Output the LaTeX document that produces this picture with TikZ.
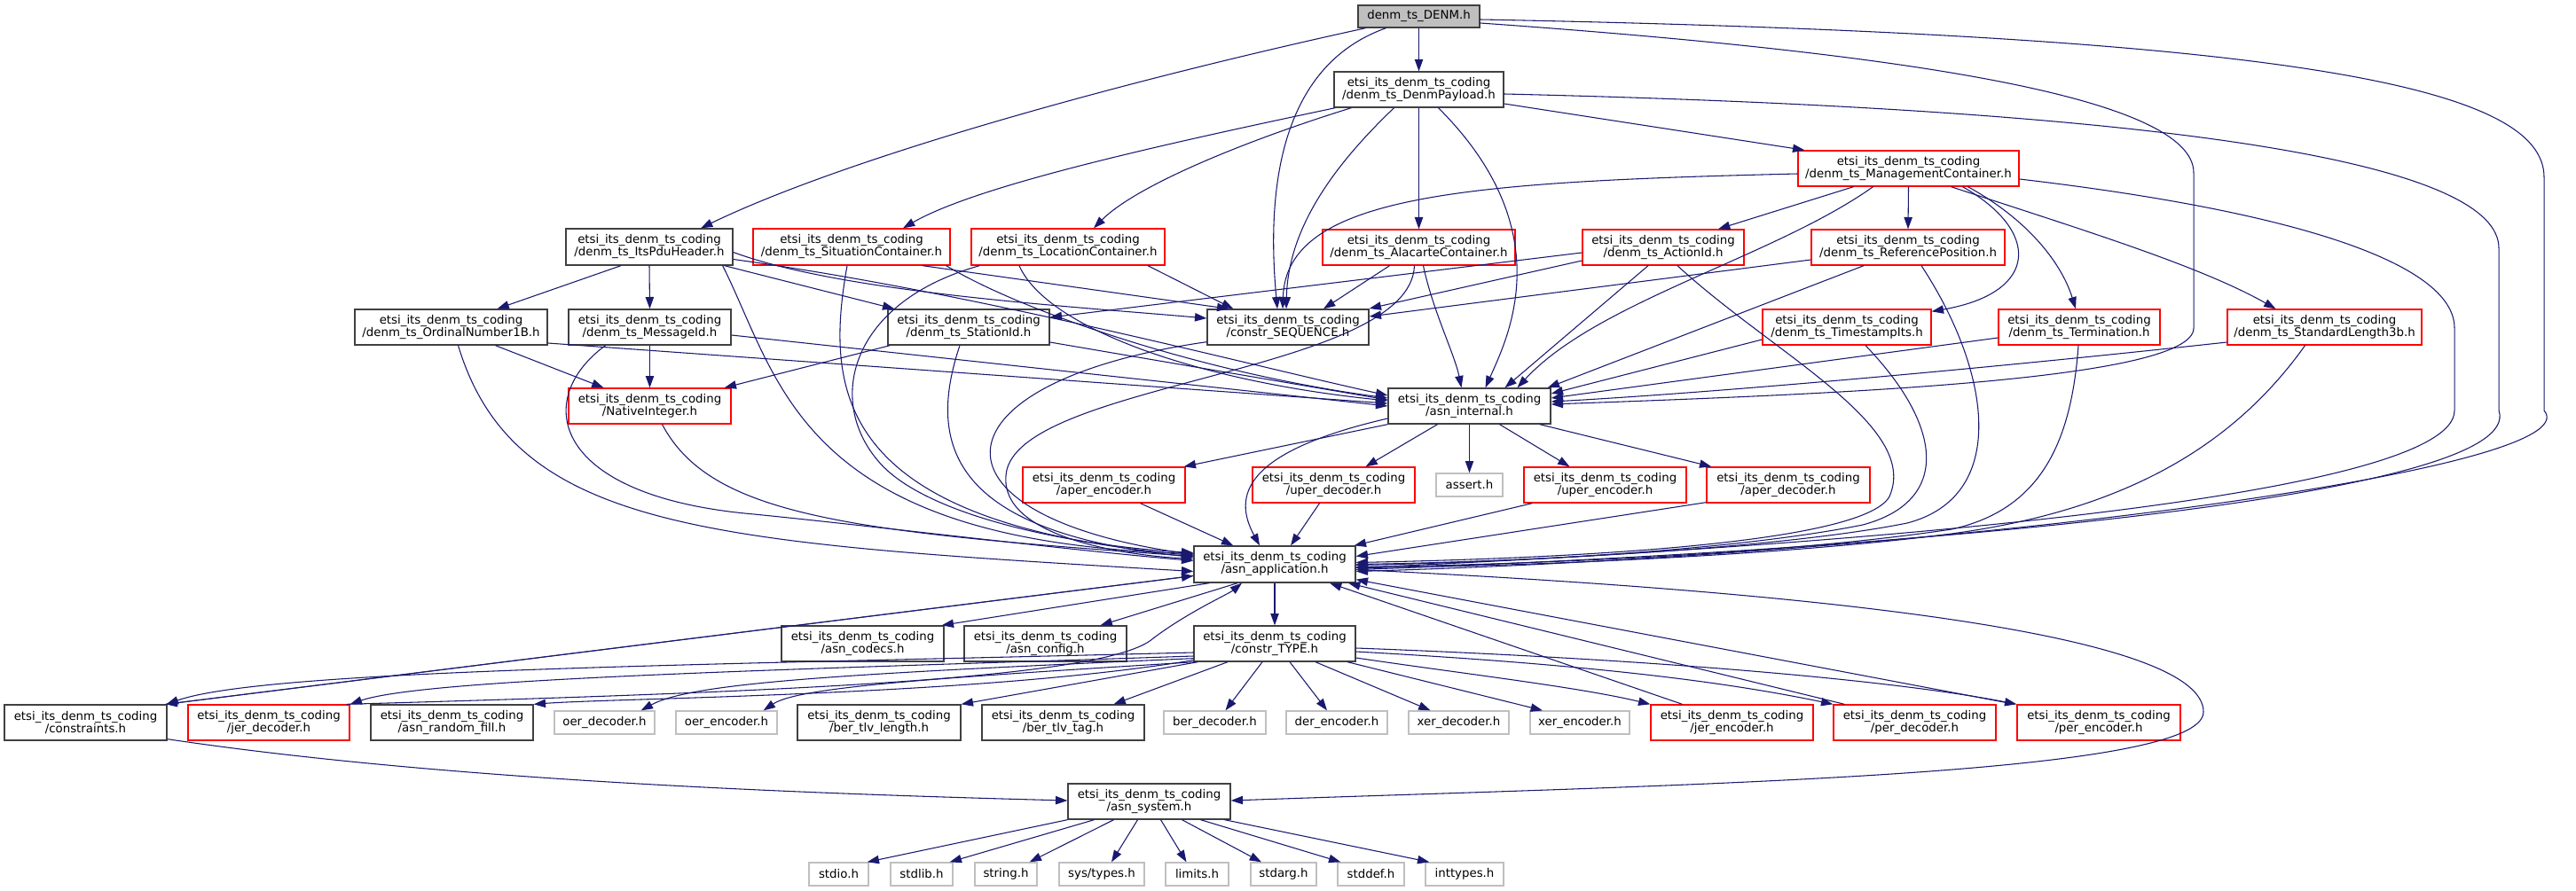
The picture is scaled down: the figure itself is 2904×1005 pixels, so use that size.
\documentclass[tikz,border=0pt]{standalone}
\usepackage{fontspec}
\setmainfont{DejaVu Sans}
\usetikzlibrary{arrows.meta,calc}
\definecolor{edgec}{HTML}{191970}
\definecolor{gfill}{HTML}{BFBFBF}
\definecolor{gline}{HTML}{BFBFBF}
\definecolor{bline}{HTML}{404040}
\definecolor{rline}{HTML}{FF0000}
\newcommand\mkbox[7]{\node[#1,minimum width=#5*0.75pt,minimum height=#6*0.75pt] (#2) at (#3,#4) {#7};}
\newcommand\pre{etsi\_its\_denm\_ts\_coding\\}
\begin{document}
\begin{tikzpicture}[x=0.75pt,y=-0.75pt,
  bx/.style={draw=bline,line width=1pt,fill=white,inner sep=0pt,align=center,font=\fontsize{10}{10.5}\selectfont},
  rx/.style={bx,draw=rline},
  gx/.style={bx,draw=gline},
  tx/.style={bx,fill=gfill},
  edg/.style={draw=edgec,line width=0.8pt,-{Triangle[length=10pt,width=7pt]}}]
\fill[white] (0,0) rectangle (2904,1005);
\useasboundingbox (0,0) rectangle (2904,1005);
% nodes
\mkbox{tx}{denm}{1599.5}{18.5}{137}{25}{denm\_ts\_DENM.h}
\mkbox{bx}{payload}{1599.5}{101}{191}{40}{\pre/denm\_ts\_DenmPayload.h}
\mkbox{rx}{mgmt}{2151.5}{190}{249}{40}{\pre/denm\_ts\_ManagementContainer.h}
\mkbox{bx}{its}{732}{278.5}{188}{41}{\pre/denm\_ts\_ItsPduHeader.h}
\mkbox{rx}{sit}{960}{278.5}{222}{41}{\pre/denm\_ts\_SituationContainer.h}
\mkbox{rx}{loc}{1204}{278.5}{218}{41}{\pre/denm\_ts\_LocationContainer.h}
\mkbox{rx}{alac}{1599.5}{279}{217}{40}{\pre/denm\_ts\_AlacarteContainer.h}
\mkbox{rx}{act}{1875}{279}{182}{40}{\pre/denm\_ts\_ActionId.h}
\mkbox{rx}{ref}{2151}{279}{218}{40}{\pre/denm\_ts\_ReferencePosition.h}
\mkbox{bx}{ord}{508.5}{369}{217}{40}{\pre/denm\_ts\_OrdinalNumber1B.h}
\mkbox{bx}{msg}{732.5}{369}{183}{40}{\pre/denm\_ts\_MessageId.h}
\mkbox{bx}{sta}{1092}{369}{182}{40}{\pre/denm\_ts\_StationId.h}
\mkbox{bx}{seq}{1452}{369}{182}{40}{\pre/constr\_SEQUENCE.h}
\mkbox{rx}{ts}{2082}{369}{190}{40}{\pre/denm\_ts\_TimestampIts.h}
\mkbox{rx}{term}{2344}{369}{182}{40}{\pre/denm\_ts\_Termination.h}
\mkbox{rx}{sl}{2620.5}{369}{219}{40}{\pre/denm\_ts\_StandardLength3b.h}
\mkbox{rx}{nat}{732.5}{458}{183}{40}{\pre/NativeInteger.h}
\mkbox{bx}{int}{1656.5}{458}{183}{40}{\pre/asn\_internal.h}
\mkbox{rx}{aenc}{1244.5}{547}{183}{40}{\pre/aper\_encoder.h}
\mkbox{rx}{udec}{1503.5}{547}{183}{40}{\pre/uper\_decoder.h}
\mkbox{gx}{assert}{1656.5}{547}{75}{26}{assert.h}
\mkbox{rx}{uenc}{1809.5}{547}{183}{40}{\pre/uper\_encoder.h}
\mkbox{rx}{adec}{2016}{547}{184}{40}{\pre/aper\_decoder.h}
\mkbox{bx}{app}{1437}{636.5}{182}{41}{\pre/asn\_application.h}
\mkbox{bx}{codecs}{972.5}{726}{183}{40}{\pre/asn\_codecs.h}
\mkbox{bx}{config}{1178.5}{726}{183}{40}{\pre/asn\_config.h}
\mkbox{bx}{type}{1437}{726}{182}{40}{\pre/constr\_TYPE.h}
\mkbox{bx}{cons}{96.5}{815}{183}{40}{\pre/constraints.h}
\mkbox{rx}{jdec}{303}{815}{182}{40}{\pre/jer\_decoder.h}
\mkbox{bx}{rfill}{509.5}{815}{183}{40}{\pre/asn\_random\_fill.h}
\mkbox{gx}{odec}{681.5}{815}{113}{26}{oer\_decoder.h}
\mkbox{gx}{oenc}{819}{815}{114}{26}{oer\_encoder.h}
\mkbox{bx}{blen}{991}{815}{184}{40}{\pre/ber\_tlv\_length.h}
\mkbox{bx}{btag}{1198.5}{815}{183}{40}{\pre/ber\_tlv\_tag.h}
\mkbox{gx}{bdec}{1369.5}{815}{115}{26}{ber\_decoder.h}
\mkbox{gx}{denc}{1507}{815}{114}{26}{der\_encoder.h}
\mkbox{gx}{xdec}{1644.5}{815}{113}{26}{xer\_decoder.h}
\mkbox{gx}{xenc}{1781}{815}{112}{26}{xer\_encoder.h}
\mkbox{rx}{jenc}{1952.5}{815}{183}{40}{\pre/jer\_encoder.h}
\mkbox{rx}{pdec}{2158.5}{815}{183}{40}{\pre/per\_decoder.h}
\mkbox{rx}{penc}{2366}{815}{184}{40}{\pre/per\_encoder.h}
\mkbox{bx}{sys}{1295.5}{904}{183}{40}{\pre/asn\_system.h}
\mkbox{gx}{stdio}{945.5}{986}{67}{26}{stdio.h}
\mkbox{gx}{stdlib}{1039}{986}{70}{26}{stdlib.h}
\mkbox{gx}{string}{1134}{986}{70}{26}{string.h}
\mkbox{gx}{systypes}{1242}{986}{96}{26}{sys/types.h}
\mkbox{gx}{limits}{1349.5}{986}{71}{26}{limits.h}
\mkbox{gx}{stdarg}{1447}{986}{74}{26}{stdarg.h}
\mkbox{gx}{stddef}{1545.5}{986}{75}{26}{stddef.h}
\mkbox{gx}{inttypes}{1651}{986}{88}{26}{inttypes.h}
% edges from DENM
\draw[edg] (denm.south) -- (payload.north);
\draw[edg] ($(denm.south)+(-60,0)$) .. controls (1250,95) and (950,180) .. ($(its.north)+(58,0)$);
\draw[edg] ($(denm.south)+(-37,0)$) .. controls (1440,75) and (1428,220) .. ($(seq.north)+(-12,0)$);
\draw[edg] ($(denm.east)+(0,7.5)$) .. controls (2150,60) and (2473,110) .. (2473,195) -- (2473,370) .. controls (2473,430) and (2050,445) .. ($(int.east)+(0,-2)$);
\draw[edg] ($(denm.east)+(0,3.5)$) .. controls (2600,40) and (2868,100) .. (2868,200) -- (2868,463) .. controls (2925,530) and (2200,625) .. ($(app.east)+(0,8)$);
% payload
\draw[edg] ($(payload.east)+(0,5)$) .. controls (2500,125) and (2817,190) .. (2817,280) -- (2817,463) .. controls (2850,560) and (2150,620) .. ($(app.east)+(0,6)$);
\draw[edg] (payload.south) -- (alac.north);
\draw[edg] ($(payload.east)+(0,16)$) -- ($(mgmt.north west)+(8,0)$);
\draw[edg] ($(payload.south west)+(2,0)$) .. controls (1300,165) and (1100,210) .. ($(sit.north)+(58,0)$);
\draw[edg] ($(payload.south west)+(20,0)$) .. controls (1400,160) and (1280,210) .. ($(loc.north)+(29,0)$);
\draw[edg] ($(payload.south)+(-28,0)$) .. controls (1500,190) and (1452,260) .. ($(seq.north)+(-2,0)$);
\draw[edg] ($(payload.south)+(22,0)$) .. controls (1760,260) and (1700,380) .. ($(int.north)+(18,0)$);
% management
\draw[edg] ($(mgmt.east)+(0,12)$) .. controls (2600,240) and (2767,300) .. (2767,370) -- (2767,463) .. controls (2767,560) and (2100,615) .. ($(app.east)+(0,4)$);
\draw[edg] ($(mgmt.west)+(0,6)$) .. controls (1650,205) and (1450,220) .. ($(seq.north)+(-6,0)$);
\draw[edg] ($(mgmt.south)+(-62,0)$) -- ($(act.north)+(62,0)$);
\draw[edg] ($(mgmt.south)+(-40,0)$) .. controls (2000,290) and (1800,340) .. ($(int.north)+(54,0)$);
\draw[edg] (mgmt.south) -- (ref.north);
\draw[edg] ($(mgmt.south)+(61,0)$) .. controls (2300,260) and (2300,330) .. ($(ts.north east)+(0,3)$);
\draw[edg] ($(mgmt.south)+(67,0)$) .. controls (2290,250) and (2325,300) .. ($(term.north)+(-4,0)$);
\draw[edg] ($(mgmt.south)+(48,0)$) .. controls (2350,260) and (2480,300) .. ($(sl.north)+(-55,0)$);
% ItsPduHeader
\draw[edg] ($(its.south)+(-32,0)$) -- ($(ord.north)+(52,0)$);
\draw[edg] (its.south) -- (msg.north);
\draw[edg] ($(its.south east)+(-10,0)$) -- ($(sta.north west)+(8,0)$);
\draw[edg] ($(its.east)+(0,6)$) .. controls (950,330) and (1200,345) .. ($(seq.west)+(0,-10)$);
\draw[edg] ($(its.east)+(0,14)$) .. controls (1100,330) and (1400,410) .. ($(int.west)+(0,-12)$);
\draw[edg] ($(its.south east)+(-12,0)$) .. controls (880,430) and (900,610) .. ($(app.west)+(0,-12)$);
% Situation / Location
\draw[edg] ($(sit.south)+(80,0)$) -- ($(seq.north west)+(25,0)$);
\draw[edg] ($(sit.south east)+(-5,0)$) .. controls (1150,350) and (1350,420) .. ($(int.west)+(0,-9)$);
\draw[edg] ($(sit.south)+(-5,0)$) .. controls (930,440) and (940,590) .. ($(app.west)+(0,-10)$);
\draw[edg] ($(loc.south)+(90,0)$) -- ($(seq.north west)+(30,0)$);
\draw[edg] ($(loc.south)+(-55,0)$) .. controls (1180,370) and (1350,430) .. ($(int.west)+(0,-6)$);
\draw[edg] ($(loc.south west)+(10,0)$) .. controls (960,340) and (930,450) .. (990,520) .. controls (1040,580) and (1200,615) .. ($(app.west)+(0,-13)$);
% Alacarte
\draw[edg] ($(alac.south)+(-33,0)$) -- ($(seq.north)+(40,0)$);
\draw[edg] ($(alac.south)+(5,0)$) .. controls (1615,350) and (1640,400) .. ($(int.north)+(-9,0)$);
\draw[edg] ($(alac.south)+(-5,0)$) .. controls (1590,420) and (1160,430) .. (1135,530) .. controls (1120,600) and (1250,625) .. ($(app.west)+(0,-6)$);
% ActionId
\draw[edg] ($(act.west)+(0,6)$) -- ($(sta.east)+(0,-11)$);
\draw[edg] ($(act.west)+(0,15)$) -- ($(seq.east)+(0,-21)$);
\draw[edg] ($(act.south)+(-17,0)$) -- ($(int.north)+(40,0)$);
\draw[edg] ($(act.south)+(16,0)$) .. controls (2000,400) and (2165,480) .. (2130,560) .. controls (2100,615) and (1750,630) .. ($(app.east)+(0,-2)$);
% ReferencePosition
\draw[edg] ($(ref.west)+(0,14)$) -- ($(seq.east)+(0,-12)$);
\draw[edg] ($(ref.south)+(-50,0)$) -- ($(int.north east)+(-4,0)$);
\draw[edg] ($(ref.south)+(15,0)$) .. controls (2245,420) and (2265,560) .. (2150,590) .. controls (2000,620) and (1700,634) .. ($(app.east)+(0,0)$);
% TimestampIts, Termination, StandardLength3b
\draw[edg] ($(ts.west)+(0,14)$) -- ($(int.east)+(0,-14)$);
\draw[edg] ($(ts.south)+(21,0)$) .. controls (2190,480) and (2200,565) .. (2100,592) .. controls (1950,622) and (1700,634) .. ($(app.east)+(0,1)$);
\draw[edg] ($(term.west)+(0,12)$) -- ($(int.east)+(0,-9)$);
\draw[edg] ($(term.south)+(-1,0)$) .. controls (2335,500) and (2300,575) .. (2200,597) .. controls (2000,627) and (1700,637) .. ($(app.east)+(0,3)$);
\draw[edg] ($(sl.west)+(0,17)$) .. controls (2200,420) and (1900,445) .. ($(int.east)+(0,-5)$);
\draw[edg] ($(sl.south)+(-22,0)$) .. controls (2520,500) and (2400,575) .. (2200,602) .. controls (2000,628) and (1700,639) .. ($(app.east)+(0,4)$);
% OrdinalNumber1B, MessageId, StationId
\draw[edg] ($(ord.south)+(50,0)$) -- ($(nat.north)+(-52,0)$);
\draw[edg] ($(ord.east)+(0,18)$) -- ($(int.west)+(0,-3)$);
\draw[edg] ($(ord.south)+(8,0)$) .. controls (580,600) and (800,612) .. ($(app.west)+(0,8)$);
\draw[edg] (msg.south) -- (nat.north);
\draw[edg] ($(msg.east)+(0,9)$) -- ($(int.west)+(0,0)$);
\draw[edg] ($(msg.south)+(-50,0)$) .. controls (600,450) and (620,560) .. (850,580) .. controls (1000,595) and (1200,620) .. ($(app.west)+(0,-4)$);
\draw[edg] ($(sta.south west)+(3,0)$) -- ($(nat.north east)+(-8,0)$);
\draw[edg] ($(sta.east)+(0,17)$) -- ($(int.west)+(0,-7)$);
\draw[edg] ($(sta.south)+(-10,0)$) .. controls (1045,500) and (1070,600) .. ($(app.west)+(0,-8)$);
% constr_SEQUENCE, NativeInteger
\draw[edg] ($(seq.south west)+(0,-4)$) .. controls (1050,430) and (1030,580) .. ($(app.west)+(0,-11)$);
\draw[edg] ($(nat.south)+(14,0)$) .. controls (800,580) and (950,600) .. ($(app.west)+(0,-9)$);
% asn_internal
\draw[edg] ($(int.west)+(0,14)$) .. controls (1400,510) and (1390,560) .. ($(app.north)+(-17,0)$);
\draw[edg] (int.south west) -- ($(aenc.north east)+(-2,0)$);
\draw[edg] ($(int.south)+(-36,0)$) -- ($(udec.north)+(36,0)$);
\draw[edg] (int.south) -- (assert.north);
\draw[edg] ($(int.south)+(34,0)$) -- ($(uenc.north)+(-40,0)$);
\draw[edg] ($(int.south east)+(-13,0)$) -- ($(adec.north west)+(6,0)$);
% encoders/decoders to asn_application
\draw[edg] ($(aenc.south)+(41,0)$) -- ($(app.north west)+(45,0)$);
\draw[edg] ($(udec.south)+(-16,0)$) -- ($(app.north)+(18,0)$);
\draw[edg] ($(uenc.south west)+(10,0)$) -- ($(app.north east)+(-2,0)$);
\draw[edg] ($(adec.south west)+(0,-1)$) -- ($(app.east)+(0,-9)$);
% asn_application
\draw[edg] ($(app.south west)+(18,0)$) -- ($(codecs.north east)+(-3,0)$);
\draw[edg] ($(app.south)+(-42,0)$) -- ($(config.north)+(62,0)$);
\draw[edg] (app.south) -- (type.north);
\draw[edg] ($(app.west)+(0,13)$) -- ($(cons.north east)+(-2,0)$);
\draw[edg] ($(cons.north east)+(-2,0)$) -- ($(app.west)+(0,13)$);
\draw[edg] ($(app.east)+(0,6)$) .. controls (2100,670) and (2484,720) .. (2484,803) .. controls (2484,875) and (1900,885) .. ($(sys.east)+(0,-1)$);
% constr_TYPE
\draw[edg] ($(type.west)+(0,10)$) .. controls (800,750) and (300,755) .. ($(cons.north east)+(-1,0)$);
\draw[edg] ($(type.west)+(0,14)$) .. controls (900,755) and (480,765) .. (jdec.north east);
\draw[edg] ($(type.south west)+(0,-2)$) .. controls (1100,785) and (700,787) .. (rfill.north east);
\draw[edg] ($(type.south west)+(0,-4)$) .. controls (950,760) and (780,770) .. ($(odec.north east)+(-16,0)$);
\draw[edg] ($(type.south west)+(2,0)$) .. controls (1050,765) and (900,775) .. ($(oenc.north east)+(-16,0)$);
\draw[edg] ($(type.south west)+(5,0)$) -- (blen.north east);
\draw[edg] ($(type.south)+(-53,0)$) -- ($(btag.north)+(57,0)$);
\draw[edg] ($(type.south)+(-14,0)$) -- ($(bdec.north)+(12,0)$);
\draw[edg] ($(type.south)+(17,0)$) -- ($(denc.north)+(-11,0)$);
\draw[edg] ($(type.south)+(46,0)$) -- ($(xdec.north)+(-32,0)$);
\draw[edg] ($(type.south)+(82,0)$) -- ($(xenc.north)+(-42,0)$);
\draw[edg] ($(type.east)+(0,16)$) .. controls (1650,760) and (1780,775) .. (jenc.north west);
\draw[edg] ($(type.east)+(0,9)$) .. controls (1800,750) and (1950,770) .. (pdec.north west);
\draw[edg] ($(type.east)+(0,5)$) .. controls (1900,745) and (2150,770) .. (penc.north west);
% back edges to asn_application
\draw[edg] ($(jdec.north east)+(-4,0)$) .. controls (900,780) and (1250,765) .. (1300,720) .. controls (1340,690) and (1385,670) .. ($(app.south)+(-37,0)$);
\draw[edg] ($(jenc.north)+(-56,0)$) -- ($(app.south)+(62,0)$);
\draw[edg] ($(pdec.north west)+(13,0)$) -- ($(app.south)+(83,0)$);
\draw[edg] ($(penc.north west)+(-2,0)$) -- ($(app.south east)+(0,-4)$);
% constraints to asn_system
\draw[edg] ($(cons.south east)+(0,-2)$) .. controls (500,880) and (900,895) .. ($(sys.west)+(0,-1)$);
% asn_system
\draw[edg] (sys.south west) -- ($(stdio.north east)+(-2,0)$);
\draw[edg] ($(sys.south)+(-62,0)$) -- ($(stdlib.north east)+(-4,0)$);
\draw[edg] ($(sys.south)+(-40,0)$) -- ($(string.north east)+(-9,0)$);
\draw[edg] ($(sys.south)+(-13,0)$) -- ($(systypes.north)+(11,0)$);
\draw[edg] ($(sys.south)+(13,0)$) -- ($(limits.north)+(-12,0)$);
\draw[edg] ($(sys.south)+(37,0)$) -- ($(stdarg.north)+(-25,0)$);
\draw[edg] ($(sys.south)+(58,0)$) -- ($(stddef.north west)+(4,0)$);
\draw[edg] ($(sys.south)+(85,0)$) -- ($(inttypes.north west)+(5,0)$);
\end{tikzpicture}
\end{document}
